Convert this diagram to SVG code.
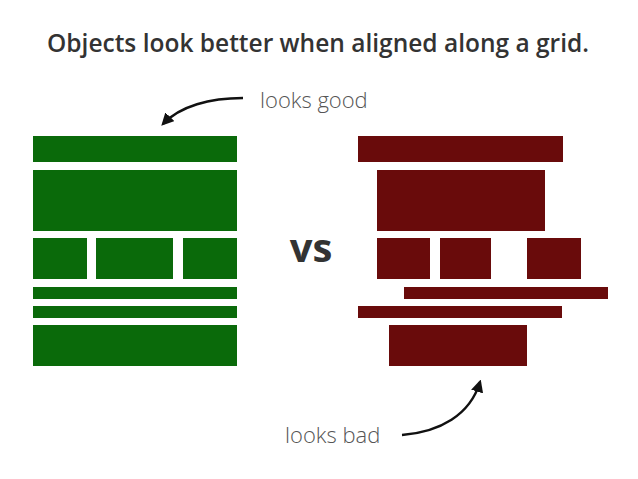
<svg xmlns="http://www.w3.org/2000/svg" width="638" height="479" viewBox="0 0 638 479">
<style>
.g{fill:#0a6a0a}.r{fill:#690b0b}
.lbl{font-family:"Open Sans","Liberation Sans",sans-serif;font-weight:300;font-size:22px;fill:#555}
.c{fill:none;stroke:#111;stroke-width:2.5}
</style>
<defs><marker id="ah" viewBox="0 0 10 10" refX="8" refY="5" markerWidth="5" markerHeight="5" orient="auto"><path d="M0,0L10,5L0,10z" fill="#111"/></marker></defs>
<rect width="638" height="479" fill="#fff"/>
<text x="318" y="52" text-anchor="middle" font-family="Open Sans,Liberation Sans,sans-serif" font-weight="600" font-size="24.5" fill="#333">Objects look better when aligned along a grid.</text>
<g id="good">
<rect class="g" x="33" y="136" width="204" height="26"/>
<rect class="g" x="33" y="170" width="204" height="61"/>
<rect class="g" x="33" y="238" width="54" height="41"/>
<rect class="g" x="96" y="238" width="77" height="41"/>
<rect class="g" x="183" y="238" width="54" height="41"/>
<rect class="g" x="33" y="287" width="204" height="12"/>
<rect class="g" x="33" y="306" width="204" height="12"/>
<rect class="g" x="33" y="325" width="204" height="41"/>
</g>
<g id="bad">
<rect class="r" x="358" y="136" width="205" height="26"/>
<rect class="r" x="377" y="170" width="168" height="61"/>
<rect class="r" x="377" y="238" width="53" height="41"/>
<rect class="r" x="440" y="238" width="51" height="41"/>
<rect class="r" x="527" y="238" width="54" height="41"/>
<rect class="r" x="404" y="287" width="204" height="12"/>
<rect class="r" x="358" y="306" width="204" height="12"/>
<rect class="r" x="389" y="325" width="138" height="41"/>
</g>
<g id="vs"><text x="311" y="262" text-anchor="middle" font-family="Open Sans,Liberation Sans,sans-serif" font-weight="700" font-size="40" fill="#333">vs</text></g>
<g id="labels">
<text class="lbl" x="260" y="108">looks good</text>
<text class="lbl" x="285" y="443">looks bad</text>
</g>
<g id="connectors">
<path class="c" d="M243,98 C210,98 180,106 163,124" marker-end="url(#ah)"/>
<path class="c" d="M402,435 C440,432 470,415 480,382" marker-end="url(#ah)"/>
</g>
</svg>
